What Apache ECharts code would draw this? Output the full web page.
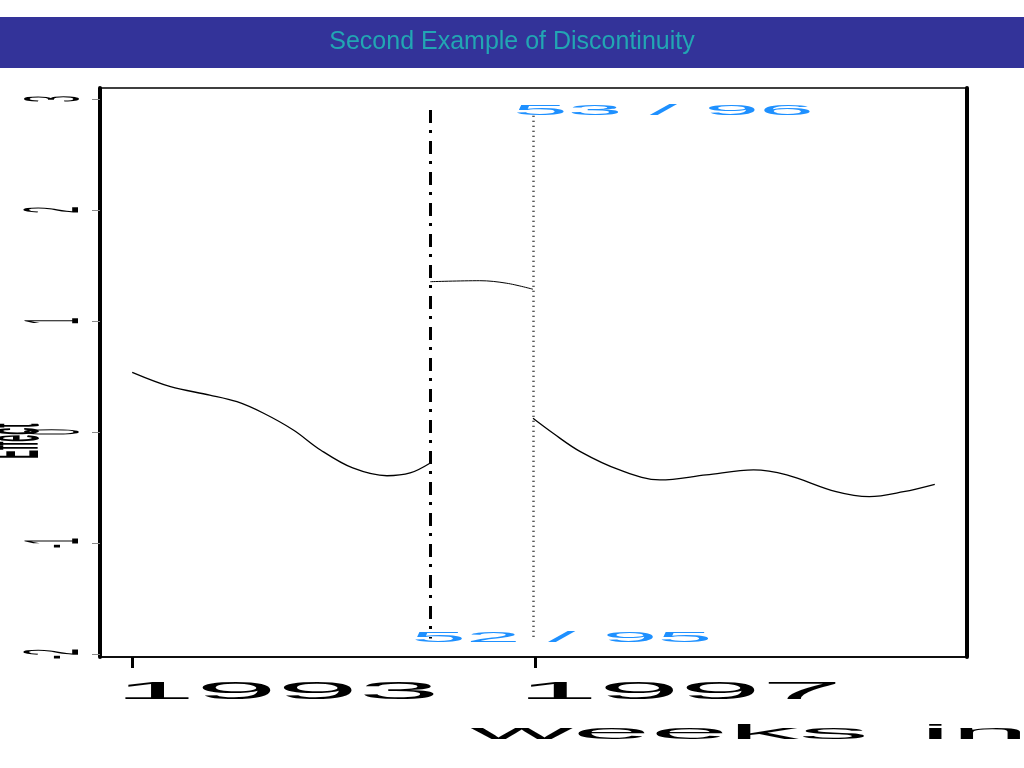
<!DOCTYPE html>
<html>
<head>
<meta charset="utf-8">
<script src="https://cdn.jsdelivr.net/npm/echarts@6/dist/echarts.min.js"></script>
<style>html,body{margin:0;padding:0;background:#fff;}#c{width:1024px;height:768px;}</style>
</head>
<body>
<div id="c"></div>
<script>
// ---- data ----
const titleText = 'Second Example of Discontinuity';
const xAxisTitle = 'weeks \u200Ain year';
const yAxisTitle = 'Effect';
const xTickValues = [1993, 1997];
const xTickLabels = ['1993', '1997'];
const yTickValues = [-2, -1, 0, 1, 2, 3];
const yTickLabels = ['-2', '-1', '0', '1', '2', '3'];

const seg1Years = [1993.0, 1993.38, 1993.77, 1994.04, 1994.30, 1994.60, 1994.87, 1995.19, 1995.53, 1995.76, 1995.96];
const seg1Vals  = [0.537, 0.408, 0.333, 0.273, 0.171, 0.018, -0.162, -0.324, -0.394, -0.369, -0.279];
const seg2Years = [1995.96, 1996.45, 1996.72, 1996.98];
const seg2Vals  = [1.354, 1.363, 1.34, 1.286];
const seg3Years = [1996.98, 1997.18, 1997.45, 1997.84, 1998.24, 1998.70, 1999.17, 1999.50, 1999.99, 2000.32, 2000.66, 2000.97];
const seg3Vals  = [0.123, -0.012, -0.177, -0.342, -0.432, -0.387, -0.342, -0.387, -0.538, -0.583, -0.538, -0.471];

const breakYears = [1995.96, 1996.98];
const breakLabels = ['52 / 95', '53 / 96'];

// ---- chart ----
const zip = (xs, ys) => xs.map((x, i) => [x, ys[i]]);
const chart = echarts.init(document.getElementById('c'), null, {renderer: 'canvas'});
const FONT = '"Liberation Sans", Arial, Helvetica, sans-serif';
const xMin = 1992.68, xMax = 2001.29, yMin = -2.027, yMax = 3.099;

const lineBase = {type: 'line', smooth: 0.35, symbol: 'none', silent: true,
  lineStyle: {color: '#000', width: 1.3}};

chart.setOption({
  animation: false,
  backgroundColor: '#fff',
  title: {
    text: titleText, left: 'center', top: 25,
    textStyle: {color: '#22a6b3', fontSize: 25, fontWeight: 'normal', fontFamily: FONT}
  },
  grid: {left: 100, right: 57, top: 88, bottom: 111, show: true, borderColor: '#000', borderWidth: 1.5, backgroundColor: 'transparent'},
  xAxis: {
    type: 'value', min: xMin, max: xMax,
    axisLine: {show: true, onZero: false, lineStyle: {color: '#000', width: 1.5}},
    axisTick: {show: true, customValues: xTickValues, length: 11, lineStyle: {color: '#000', width: 3}},
    axisLabel: {show: false},
    splitLine: {show: false}
  },
  yAxis: [{
    type: 'value', min: yMin, max: yMax, position: 'left',
    axisLine: {show: true, onZero: false, lineStyle: {color: '#000', width: 4}},
    axisTick: {show: true, customValues: yTickValues, length: 8, lineStyle: {color: '#888', width: 1}},
    axisLabel: {show: false},
    splitLine: {show: false}
  }, {
    type: 'value', min: yMin, max: yMax, position: 'right',
    axisLine: {show: true, onZero: false, lineStyle: {color: '#000', width: 4}},
    axisTick: {show: false}, axisLabel: {show: false}, splitLine: {show: false}
  }],
  series: [
    Object.assign({}, lineBase, {data: zip(seg1Years, seg1Vals)}),
    Object.assign({}, lineBase, {data: zip(seg2Years, seg2Vals), lineStyle: {color: '#000', width: 1}}),
    Object.assign({}, lineBase, {data: zip(seg3Years, seg3Vals),
      markLine: {
        symbol: 'none', silent: true, label: {show: false},
        data: [
          [{coord: [breakYears[0], 2.9], lineStyle: {color: '#000', width: 3, type: [13, 7, 3, 8]}}, {coord: [breakYears[0], -1.86]}],
          [{coord: [breakYears[1], 2.85], lineStyle: {color: '#222', width: 2.5, type: [1.2, 3.8]}}, {coord: [breakYears[1], -1.86]}]
        ]
      }})
  ]
});

const px = (x, y) => chart.convertToPixel({gridIndex: 0}, [x, y]);
const g = [];
// title bar
g.push({type: 'rect', shape: {x: 0, y: 17, width: 1024, height: 51}, style: {fill: '#333399'}, z: 0, silent: true});

function txt(text, x, y, o) {
  return Object.assign({
    type: 'text', x: x, y: y, silent: true, z: 10,
    style: {text: text, font: (o.weight || 'normal') + ' ' + (o.size || 14) + 'px ' + FONT, fill: o.fill || '#000',
      textAlign: o.align || 'center', align: o.align || 'center',
      textVerticalAlign: 'middle', verticalAlign: 'middle'}
  }, o.t || {});
}
// y tick labels (rotated, stretched)
yTickValues.forEach((v, i) => {
  const p = px(xMin, v);
  g.push(txt(yTickLabels[i], 57, p[1], {size: 14, t: {rotation: Math.PI / 2, scaleX: 0.8, scaleY: 5.5}}));
});
// y axis title
g.push(txt(yAxisTitle, 16, 441, {size: 14, weight: 'bold', t: {rotation: Math.PI / 2, scaleX: 0.9, scaleY: 5.6}}));
// x tick labels
xTickValues.forEach((v, i) => {
  const p = px(v, yMin);
  g.push(txt(xTickLabels[i], p[0] - 18, 692, {size: 24, align: 'left', t: {scaleX: 6.1, scaleY: 1}}));
});
// x axis title
g.push(txt(xAxisTitle, 471, 733, {size: 18, align: 'left', t: {scaleX: 7.8, scaleY: 1.15}}));
// break labels
const b0 = px(breakYears[0], 0)[0], b1 = px(breakYears[1], 0)[0];
g.push(txt(breakLabels[0], b0 - 19, 638, {size: 16, align: 'left', fill: '#1e90ff', t: {scaleX: 6.15, scaleY: 0.9}}));
g.push(txt(breakLabels[1], b1 - 20, 111, {size: 16, align: 'left', fill: '#1e90ff', t: {scaleX: 6.15, scaleY: 0.9}}));

chart.setOption({graphic: g});
</script>
</body>
</html>
